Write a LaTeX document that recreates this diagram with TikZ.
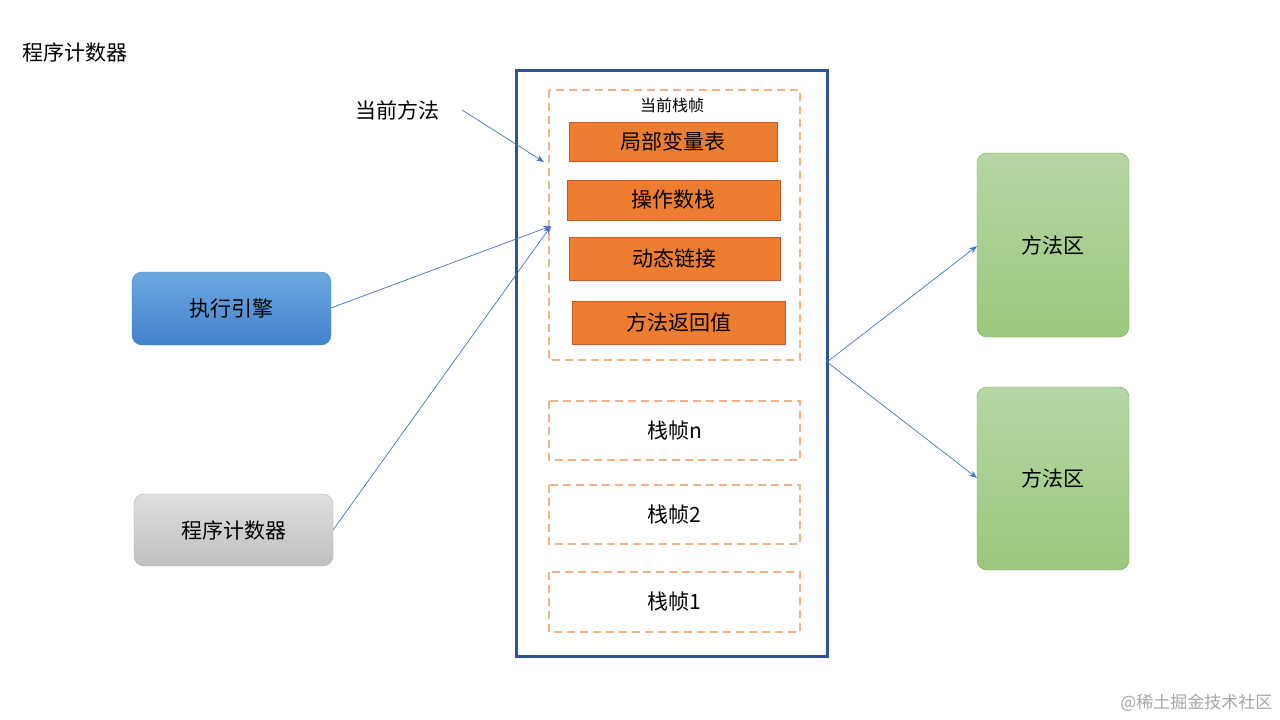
\documentclass[tikz,border=0pt]{standalone}
\usepackage{fontspec}
\setmainfont{Noto Sans CJK SC}
\usetikzlibrary{arrows.meta}
\definecolor{navy}{RGB}{47,84,150}
\definecolor{dash}{RGB}{244,177,131}
\definecolor{org}{RGB}{237,125,49}
\definecolor{orgb}{RGB}{200,90,30}
\definecolor{arr}{RGB}{68,114,196}
\definecolor{gtop}{RGB}{182,214,166}
\definecolor{gbot}{RGB}{155,200,125}
\definecolor{gdraw}{RGB}{112,173,71}
\definecolor{btop}{RGB}{110,168,225}
\definecolor{bbot}{RGB}{66,130,205}
\begin{document}
\begin{tikzpicture}[x=1pt,y=-1pt,
  frame/.style={draw=dash,line width=2.2pt,dash pattern=on 8pt off 5pt},
  ob/.style={draw=orgb,fill=org,line width=0.6pt,font=\fontsize{21}{24}\selectfont},
  side/.style={rounded corners=10pt},
  ar/.style={draw=arr,line width=0.7pt,-{Stealth[length=8pt,width=6pt]}},
  lbl/.style={font=\fontsize{21}{24}\selectfont}]
\useasboundingbox (0,0) rectangle (1280,720);
\node[lbl,anchor=west] (title) at (19,52) {程序计数器};
\draw[navy,line width=3pt] (516,70) rectangle (827,656);
\coordinate (stackR) at (827,362);
\draw[frame] (549,90) rectangle (800,360);
\node[font=\fontsize{16}{18}\selectfont] (cur) at (672,105) {当前栈帧};
\draw[ob] (569,122) rectangle node (b1) {局部变量表} (777,161);
\draw[ob] (567,180) rectangle node (b2) {操作数栈} (780,220);
\draw[ob] (569,237) rectangle node (b3) {动态链接} (780,280);
\draw[ob] (572,301) rectangle node (b4) {方法返回值} (785,344);
\draw[frame] (549,401) rectangle node[lbl] (fn) {栈帧n} (800,460);
\draw[frame] (549,485) rectangle node[lbl] (f2) {栈帧2} (800,544);
\draw[frame] (549,572) rectangle node[lbl] (f1) {栈帧1} (800,632);
\shade[side,top color=btop,bottom color=bbot,draw=bbot] (132,272) rectangle (331,345);
\node[lbl] (exe) at (231.5,308.5) {执行引擎};
\coordinate (exeR) at (331,308);
\shade[side,top color=gray!25,bottom color=gray!50,draw=gray!60] (134,494) rectangle (333,566);
\node[lbl] (pc) at (233.5,530) {程序计数器};
\coordinate (pcR) at (333,530);
\shade[side,top color=gtop,bottom color=gbot,draw=gdraw] (977,153) rectangle (1129,337);
\node[lbl] (m1) at (1053,245) {方法区};
\shade[side,top color=gtop,bottom color=gbot,draw=gdraw] (977,387) rectangle (1129,570);
\node[lbl] (m2) at (1053,478) {方法区};
\coordinate (m1L) at (977,246);
\coordinate (m2L) at (977,478);
\node[lbl] (cm) at (397,110) {当前方法};
\coordinate (cmE) at (462,110);
\coordinate (cmT) at (544,162);
\coordinate (tgt) at (551,226);
\draw[ar] (cmE) -- (cmT);
\draw[ar] (exeR) -- (tgt);
\draw[ar] (pcR) -- (tgt);
\draw[ar] (stackR) -- (m1L);
\draw[ar] (stackR) -- (m2L);
\node[font=\fontsize{17}{19}\selectfont,text=gray!70,anchor=east] (wm) at (1276,703) {@稀土掘金技术社区};
\end{tikzpicture}
\end{document}
